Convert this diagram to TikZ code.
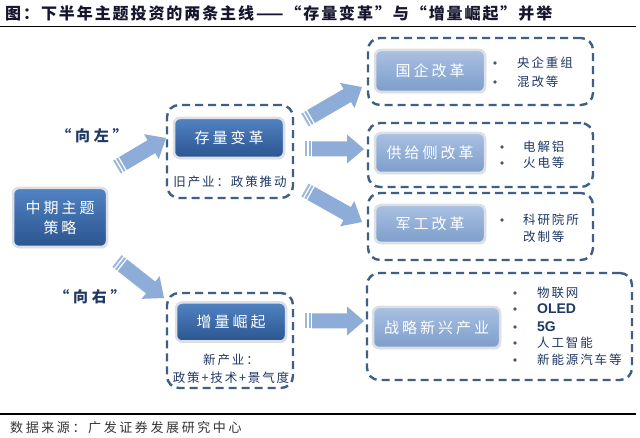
\documentclass[tikz,border=0pt]{standalone}
\usepackage{fontspec}
\setmainfont{Noto Sans CJK SC}
\newfontfamily\cjksp[LetterSpace=20]{Noto Sans CJK SC}
\newfontfamily\cjksm[LetterSpace=15]{Noto Sans CJK SC}
\newfontfamily\cjkti[LetterSpace=12]{Noto Sans CJK SC}
\newfontfamily\cjklab[LetterSpace=25]{Noto Sans CJK SC}
\newfontfamily\latinbold{Liberation Sans}
\usetikzlibrary{calc,shadows}
\definecolor{navy}{HTML}{1F3864}
\definecolor{dashc}{HTML}{3F5F86}
\definecolor{darktop}{HTML}{5283C2}
\definecolor{darkbot}{HTML}{2A5590}
\definecolor{lighttop}{HTML}{A9C1E2}
\definecolor{lightbot}{HTML}{7D9DCA}
\definecolor{rim}{HTML}{DCE0E6}
\definecolor{arrowc}{HTML}{8EACD8}
\definecolor{titlec}{HTML}{16162E}
\newcommand\stripedarrow[2]{%
  \path let \p1=(#1), \p2=(#2) in \pgfextra{%
    \pgfmathparse{atan2(\y2-\y1,\x2-\x1)}\xdef\saang{\pgfmathresult}%
    \pgfmathparse{veclen(\x2-\x1,\y2-\y1)}\xdef\salen{\pgfmathresult}};
  \begin{scope}[shift={(#1)},rotate=\saang]
    \fill[arrowc!85!white] (0pt,-7.5pt) rectangle (2pt,7.5pt);
    \fill[arrowc!90!white] (3.5pt,-7.5pt) rectangle (5.5pt,7.5pt);
    \fill[arrowc] (7pt,-7.5pt) -- (\salen pt-17pt,-7.5pt) -- (\salen pt-17pt,-14.5pt)
      -- (\salen pt,0pt) -- (\salen pt-17pt,14.5pt) -- (\salen pt-17pt,7.5pt)
      -- (7pt,7.5pt) -- cycle;
  \end{scope}}
\begin{document}
\begin{tikzpicture}[x=1pt,y=-1pt,
  container/.style={draw=dashc, line width=2.4pt, dash pattern=on 8pt off 5pt,
    rounded corners=12pt, inner sep=0pt},
  darkbox/.style={rounded corners=6pt, top color=darktop, bottom color=darkbot,
    draw=rim, line width=2.5pt, text=white, inner sep=0pt,
    font=\cjksp\fontsize{15}{20}\selectfont, align=center,
    drop shadow={opacity=0.25, shadow xshift=1pt, shadow yshift=-1.5pt}},
  lightbox/.style={darkbox, top color=lighttop, bottom color=lightbot},
  small/.style={text=navy, font=\cjksm\fontsize{12.5}{15}\selectfont, inner sep=0pt},
  bul/.style={circle, fill=navy!85, inner sep=0pt, minimum size=3.6pt},
  lab/.style={text=navy, font=\cjklab\bfseries\fontsize{15}{17}\selectfont, inner sep=0pt},
  rule/.style={line width=1.2pt, black}
]
\useasboundingbox (0,0) rectangle (640,438);
\fill[white] (0,0) rectangle (640,438);

% title
\node[anchor=west, inner sep=0pt, text=titlec, font=\cjkti\bfseries\fontsize{16}{18}\selectfont] (title) at (5,13)
  {图：下半年主题投资的两条主线——“存量变革”与“增量崛起”并举};
\coordinate (tl) at (0,26.5); \coordinate (tr) at (636,26.5);
\draw[rule] (tl) -- (tr);

% left
\node[darkbox, minimum width=94pt, minimum height=59pt] (mid) at (60,217.5) {中期主题\\策略};
\node[lab] (left) at (92,136) {“向左”};
\node[lab] (right) at (90,297) {“向右”};

% middle containers
\node[container, minimum width=126pt, minimum height=93pt] (c1) at (230,151.5) {};
\node[darkbox, minimum width=110pt, minimum height=40pt] (b1) at (229,138) {存量变革};
\node[small] (t1) at (230,182) {旧产业：政策推动};

\node[container, minimum width=126pt, minimum height=95pt] (c2) at (230,340.5) {};
\node[darkbox, minimum width=110pt, minimum height=39pt] (b2) at (231,322) {增量崛起};
\node[small] (t2a) at (231,360) {新产业：};
\node[small] (t2b) at (231,378) {政策+技术+景气度};

% right containers
\node[container, minimum width=225pt, minimum height=67pt] (c3) at (480.5,71.5) {};
\node[lightbox, minimum width=110pt, minimum height=42pt] (b3) at (430,71) {国企改革};
\node[bul] (u31) at (495,63) {}; \node[bul] (u32) at (495,82) {};
\node[small, anchor=west] (s31) at (517,63) {央企重组};
\node[small, anchor=west] (s32) at (517,82) {混改等};

\node[container, minimum width=225pt, minimum height=64pt] (c4) at (480.5,155) {};
\node[lightbox, minimum width=110pt, minimum height=40pt] (b4) at (430,153) {供给侧改革};
\node[bul] (u41) at (502,147) {}; \node[bul] (u42) at (502,163) {};
\node[small, anchor=west] (s41) at (523,147) {电解铝};
\node[small, anchor=west] (s42) at (523,163) {火电等};

\node[container, minimum width=225pt, minimum height=67pt] (c5) at (480.5,226.5) {};
\node[lightbox, minimum width=110pt, minimum height=38pt] (b5) at (430,224) {军工改革};
\node[bul] (u51) at (502,220) {};
\node[small, anchor=west] (s51) at (523,220) {科研院所};
\node[small, anchor=west] (s52) at (523,237) {改制等};

\node[container, minimum width=265pt, minimum height=107pt] (c6) at (499.5,326.5) {};
\node[lightbox, minimum width=127pt, minimum height=41pt] (b6) at (436.5,327.5) {战略新兴产业};
\node[bul] (u61) at (515,293) {};
\node[bul] (u62) at (515,309) {};
\node[bul] (u63) at (515,327) {};
\node[bul] (u64) at (515,343) {};
\node[bul] (u65) at (515,360) {};
\node[small, anchor=west] (s61) at (537,293) {物联网};
\node[anchor=west, inner sep=0pt, text=navy, font=\latinbold\bfseries\fontsize{14}{16}\selectfont] (s62) at (537,309) {OLED};
\node[anchor=west, inner sep=0pt, text=navy, font=\latinbold\bfseries\fontsize{14}{16}\selectfont] (s63) at (537,327) {5G};
\node[small, anchor=west] (s64) at (537,343) {人工智能};
\node[small, anchor=west] (s65) at (537,360) {新能源汽车等};

% arrows
\coordinate (a1s) at (117,167); \coordinate (a1e) at (166,138);
\coordinate (a2s) at (117,261); \coordinate (a2e) at (164,298);
\coordinate (a3s) at (305,120); \coordinate (a3e) at (362,87);
\coordinate (a4s) at (305,149); \coordinate (a4e) at (364,149);
\coordinate (a5s) at (305,190); \coordinate (a5e) at (362,222);
\coordinate (a6s) at (305,321); \coordinate (a6e) at (364,321);
\stripedarrow{a1s}{a1e}
\stripedarrow{a2s}{a2e}
\stripedarrow{a3s}{a3e}
\stripedarrow{a4s}{a4e}
\stripedarrow{a5s}{a5e}
\stripedarrow{a6s}{a6e}

% footer
\coordinate (bl) at (0,414); \coordinate (br) at (636,414);
\draw[rule] (bl) -- (br);
\node[anchor=west, inner sep=0pt, text=black!80, font=\cjksp\fontsize{13}{15}\selectfont] (src) at (10,428)
  {数据来源：广发证券发展研究中心};
\end{tikzpicture}
\end{document}
